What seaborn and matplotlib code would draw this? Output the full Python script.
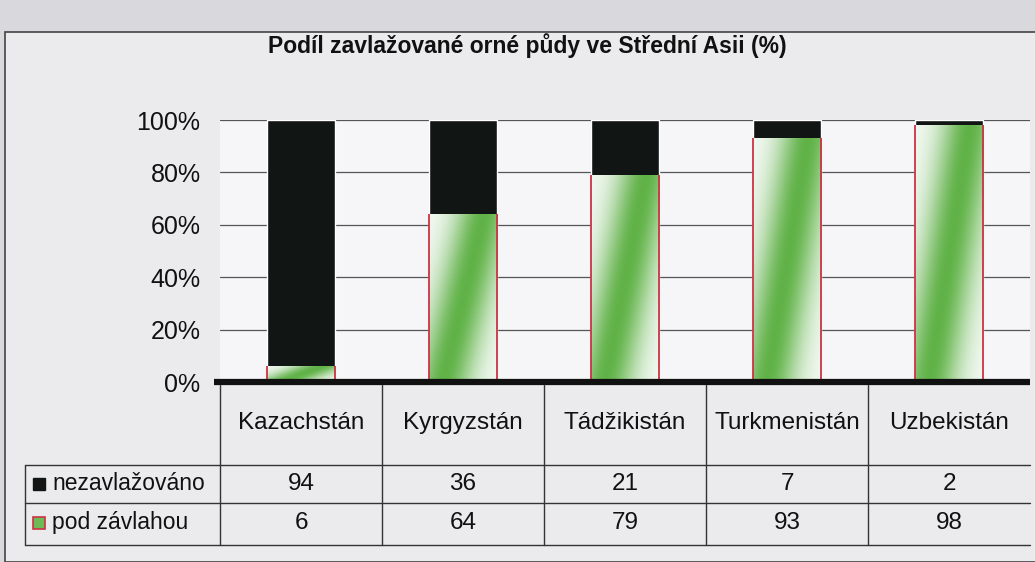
import numpy as np
import pandas as pd
import matplotlib
matplotlib.use("Agg")
import matplotlib.pyplot as plt
from matplotlib.patches import Rectangle
import seaborn as sns

# data
countries = ["Kazachstán", "Kyrgyzstán", "Tádžikistán", "Turkmenistán", "Uzbekistán"]
nezavlazovano = [94, 36, 21, 7, 2]
pod_zavlahou = [6, 64, 79, 93, 98]
series_names = ["nezavlažováno", "pod závlahou"]
yticks = [0, 20, 40, 60, 80, 100]

sns.set_theme(style="white")
plt.rcParams["font.family"] = ["Liberation Sans", "DejaVu Sans"]

df = pd.DataFrame({"country": countries,
                   "dry": nezavlazovano,
                   "wet": pod_zavlahou})
df["total"] = df["dry"] + df["wet"]

W, H = 1035, 562
fig = plt.figure(figsize=(W / 100, H / 100), dpi=100)
fig.patch.set_facecolor("#d9d9dd")
# lighter chart area
fig.add_artist(Rectangle((5 / W, 0), 1, 1 - 32 / H, transform=fig.transFigure,
                         facecolor="#ebebee", edgecolor="#444444", lw=1.2, zorder=0))

ax = fig.add_axes([220 / W, 1 - 382 / H, 810 / W, 262 / H])
ax.set_facecolor("#f6f6f8")

# black = full stack, green on top of it from 0
sns.barplot(data=df, x="country", y="total", color="#111513", width=0.42,
            saturation=1, ax=ax, zorder=2)
sns.barplot(data=df, x="country", y="wet", color="#5fb04a", width=0.42,
            saturation=1, ax=ax, zorder=3)

green = np.array([0.36, 0.69, 0.26])
vv, uu = np.mgrid[0:1:200j, 0:1:80j]
centre = 0.2 + 0.6 * vv
inten = np.exp(-((uu - centre) / 0.42) ** 2) * 0.97
img = (1 - inten[..., None]) * np.array([0.96, 0.98, 0.96]) + inten[..., None] * green

n = len(countries)
for p in ax.patches[n:]:
    x0, y0 = p.get_x(), p.get_y()
    w, h = p.get_width(), p.get_height()
    im = ax.imshow(img, extent=[x0, x0 + w, y0, y0 + h], origin="lower",
                   aspect="auto", zorder=3, interpolation="bilinear")
    im.set_clip_path(p)
    p.set_facecolor("none")
    p.set_edgecolor("none")
    ax.vlines([x0, x0 + w], y0, y0 + h, color="#cc3344", lw=1.3, zorder=4)

ax.set_xlim(-0.5, n - 0.5)
ax.set_ylim(0, 100)
ax.set_yticks(yticks)
ax.set_yticklabels([f"{t}%" for t in yticks], fontsize=18, color="#111111")
ax.tick_params(axis="y", length=0, pad=14)
ax.set_xticks([])
ax.set_xlabel("")
ax.set_ylabel("")
for t in yticks[1:]:
    ax.axhline(t, color="#555555", lw=0.9, zorder=1)
for s in ax.spines.values():
    s.set_visible(False)
ax.plot([-0.54, n - 0.5], [0, 0], color="#111111", lw=4.5, clip_on=False,
        zorder=6, solid_capstyle="butt")

fig.text(527 / W, 1 - 46 / H, "Podíl zavlažované orné půdy ve Střední Asii (%)",
         ha="center", va="center", fontsize=16.5, fontweight="bold", color="#111111")

# data table below the plot
tab = fig.add_axes([220 / W, 1 - 547 / H, 810 / W, 162 / H])
tab.set_xlim(-0.5, n - 0.5)
tab.set_ylim(547, 385)
tab.axis("off")


def px(xp):
    return (xp - 220) / 162.0 - 0.5


lc = "#333333"
for yl in [465, 503, 545]:
    tab.plot([px(25), n - 0.5], [yl, yl], color=lc, lw=1, clip_on=False)
tab.plot([px(25), px(25)], [465, 545], color=lc, lw=1, clip_on=False)
for i in range(n):
    tab.plot([i - 0.5, i - 0.5], [385, 545], color=lc, lw=1, clip_on=False)

fs = 17.5
for i, c in enumerate(countries):
    tab.text(i, 423, c, ha="center", va="center", fontsize=fs, color="#111111")
    tab.text(i, 484, str(nezavlazovano[i]), ha="center", va="center",
             fontsize=fs, color="#111111")
    tab.text(i, 523, str(pod_zavlahou[i]), ha="center", va="center",
             fontsize=fs, color="#111111")

# legend keys in the table
tab.add_patch(Rectangle((px(33), 478), px(45) - px(33), 12, facecolor="#111513",
                        edgecolor="#111513", clip_on=False))
tab.add_patch(Rectangle((px(33), 517), px(45) - px(33), 12, facecolor="#6cbb55",
                        edgecolor="#cc3344", lw=1.2, clip_on=False))
tab.text(px(52), 484, series_names[0], ha="left", va="center", fontsize=16.5,
         color="#111111", clip_on=False)
tab.text(px(52), 523, series_names[1], ha="left", va="center", fontsize=16.5,
         color="#111111", clip_on=False)

fig.savefig("out.png", dpi=100, facecolor=fig.get_facecolor())
